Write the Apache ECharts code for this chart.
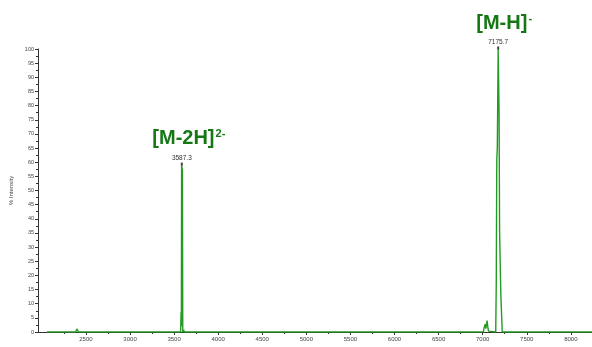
<!DOCTYPE html>
<html>
<head>
<meta charset="utf-8">
<script src="https://cdn.jsdelivr.net/npm/echarts@6/dist/echarts.min.js"></script>
<style>
  html, body { margin: 0; padding: 0; background: #fff; }
  #chart { width: 592px; height: 347px; }
</style>
</head>
<body>
<div id="chart"></div>
<script>
// spectrum trace (m/z, % intensity)
const mz = [
  2058, 2096, 2100, 2104, 2386, 2392, 2396, 2402, 2416, 2422, 2428, 2982, 2988, 2994,
  3574, 3579, 3582, 3585, 3587.3, 3594, 3598, 3606, 3610, 3614,
  7008, 7016, 7030, 7036, 7043, 7050, 7058, 7066, 7076,
  7148, 7154, 7160, 7166, 7175.7, 7186, 7192, 7200, 7206, 7213, 7222, 8240
];
const intensity = [
  0, 0, 0.5, 0, 0, 0.6, 1.1, 0.4, 0, 0.5, 0, 0, 0.5, 0,
  0, 7, 2, 59, 59, 57, 0, 0, 0.8, 0,
  0, 1.5, 2.8, 1.2, 2.5, 4, 1.8, 0.3, 0,
  0, 17, 61, 65, 100, 77, 35, 35, 13, 13, 0, 0
];

const peakMz = [3587.3, 7175.7];
const peakInt = [59, 100];
const ionNames = ['[M-2H]', '[M-H]'];
const ionCharges = ['2-', '-'];
const ionOffsets = [[7, -10], [6, -9]];

const xTicks = [2500, 3000, 3500, 4000, 4500, 5000, 5500, 6000, 6500, 7000, 7500, 8000];
const xMinorTicks = [2250, 2750, 3250, 3750, 4250, 4750, 5250, 5750, 6250, 6750, 7250, 7750, 8250];

const chart = echarts.init(document.getElementById('chart'));

const axisColor = '#333';
const green = '#239b23';
const ionGreen = '#157815';

const option = {
  animation: false,
  textStyle: { fontFamily: 'Liberation Sans' },
  grid: { left: 38, right: 0, top: 49, bottom: 15, outerBoundsMode: 'none', containLabel: false },
  xAxis: [
    {
      type: 'value',
      min: 1956,
      max: 8240,
      name: 'm/z',
      nameLocation: 'middle',
      nameGap: 12,
      nameTextStyle: { fontSize: 6, color: '#444', padding: [0, 0, 0, 16] },
      axisLine: { show: true, lineStyle: { color: axisColor, width: 1 } },
      axisTick: { show: true, customValues: xTicks, length: 3, lineStyle: { color: axisColor } },
      axisLabel: { customValues: xTicks, fontSize: 6, color: '#444', margin: 4, formatter: v => String(v) },
      splitLine: { show: false }
    },
    {
      type: 'value',
      min: 1956,
      max: 8240,
      position: 'bottom',
      axisLine: { show: false },
      axisTick: { show: true, customValues: xMinorTicks, length: 2, lineStyle: { color: axisColor } },
      axisLabel: { show: false },
      splitLine: { show: false }
    }
  ],
  yAxis: {
    type: 'value',
    min: 0,
    max: 100,
    interval: 5,
    name: '% Intensity',
    nameLocation: 'middle',
    nameGap: 22,
    nameTextStyle: { fontSize: 6, color: '#444' },
    axisLine: { show: true, lineStyle: { color: axisColor, width: 1 } },
    axisTick: { show: true, length: 3, lineStyle: { color: axisColor } },
    minorTick: { show: true, splitNumber: 2, length: 2, lineStyle: { color: axisColor } },
    axisLabel: { fontSize: 5.5, color: '#444', margin: 4 },
    splitLine: { show: false }
  },
  series: [
    {
      name: 'spectrum',
      type: 'line',
      data: mz.map((m, i) => [m, intensity[i]]),
      showSymbol: false,
      lineStyle: { color: green, width: 1.4 },
      z: 3
    },
    {
      name: 'peaks',
      type: 'scatter',
      data: peakMz.map((m, i) => [m, peakInt[i]]),
      symbol: 'rect',
      symbolSize: [2, 3],
      symbolOffset: [0, -1],
      itemStyle: { color: '#444', opacity: 1 },
      label: {
        show: true,
        position: 'top',
        distance: 1,
        fontSize: 6.5,
        color: '#333',
        formatter: p => p.value[0].toFixed(1)
      },
      z: 4
    },
    {
      name: 'ions',
      type: 'scatter',
      data: peakMz.map((m, i) => ({
        value: [m, peakInt[i]],
        label: {
          offset: ionOffsets[i],
          formatter: '{ion|' + ionNames[i] + '}{sup|' + ionCharges[i] + '}'
        }
      })),
      symbolSize: 0,
      itemStyle: { color: ionGreen, opacity: 1 },
      label: {
        show: true,
        position: 'top',
        distance: 6,
        color: ionGreen,
        textBorderWidth: 0,
        rich: {
          ion: { fontSize: 20, fontWeight: 'bold', color: ionGreen, textBorderWidth: 0, fontFamily: 'Liberation Sans' },
          sup: { fontSize: 11, fontWeight: 'bold', color: ionGreen, textBorderWidth: 0, fontFamily: 'Liberation Sans', verticalAlign: 'top', padding: [0, 0, 10, 1] }
        }
      },
      z: 5
    }
  ]
};

chart.setOption(option);
</script>
</body>
</html>
